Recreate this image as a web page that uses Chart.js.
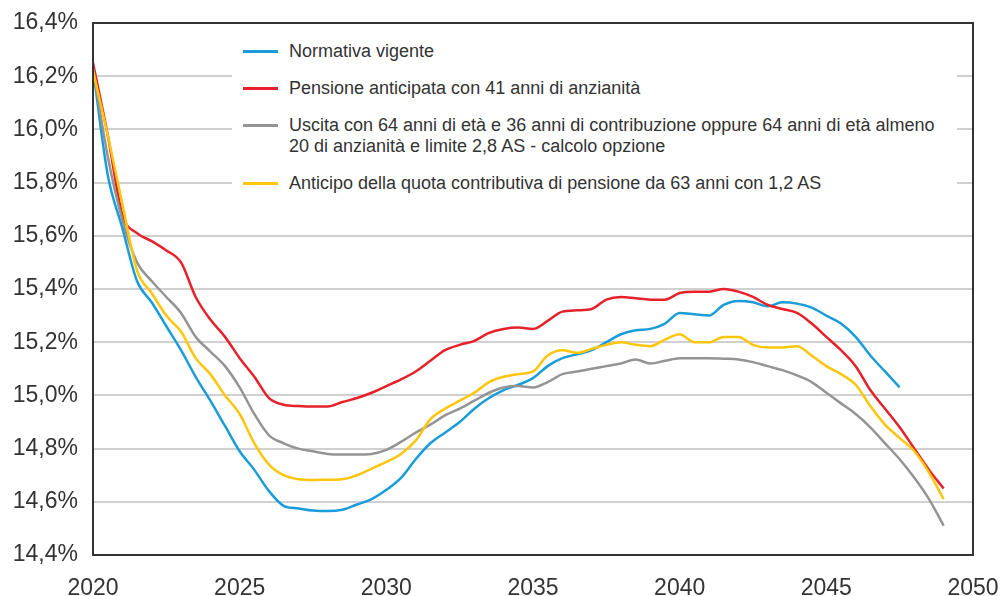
<!DOCTYPE html>
<html>
<head>
<meta charset="utf-8">
<script src="https://cdn.jsdelivr.net/npm/chart.js@4/dist/chart.umd.min.js"></script>
<style>
  body { margin: 0; background: #fff; }
  #wrap { position: relative; width: 1003px; height: 596px; }
  #legend {
    position: absolute; left: 232px; top: 30px; width: 725px; height: 170px;
    background: #fff; box-sizing: border-box; padding: 11px 0 0 57px;
    font-family: "Liberation Sans", Arial, sans-serif; font-size: 18px; color: #333;
  }
  .item { position: relative; line-height: 21px; margin-bottom: 16px; white-space: pre-line; }
  .item span { position: absolute; left: -46px; top: 9px; width: 35px; height: 3px; }
</style>
</head>
<body>
<div id="wrap">
  <canvas id="myChart" width="1003" height="596"></canvas>
  <div id="legend"></div>
</div>
<script>
// anni (passo di mezzo anno)
var anni = [2020, 2020.5, 2021, 2021.5, 2022, 2022.5, 2023, 2023.5, 2024, 2024.5,
  2025, 2025.5, 2026, 2026.5, 2027, 2027.5, 2028, 2028.5, 2029, 2029.5,
  2030, 2030.5, 2031, 2031.5, 2032, 2032.5, 2033, 2033.5, 2034, 2034.5,
  2035, 2035.5, 2036, 2036.5, 2037, 2037.5, 2038, 2038.5, 2039, 2039.5,
  2040, 2040.5, 2041, 2041.5, 2042, 2042.5, 2043, 2043.5, 2044, 2044.5,
  2045, 2045.5, 2046, 2046.5, 2047, 2047.5, 2048, 2048.5, 2049];

var normativa = [16.23, 15.83, 15.63, 15.43, 15.35, 15.26, 15.17, 15.07, 14.98, 14.885,
  14.79, 14.72, 14.64, 14.585, 14.575, 14.567, 14.565, 14.57, 14.59, 14.61,
  14.645, 14.69, 14.76, 14.82, 14.86, 14.90, 14.95, 14.99, 15.02, 15.04,
  15.065, 15.11, 15.14, 15.155, 15.17, 15.20, 15.23, 15.245, 15.25, 15.27,
  15.31, 15.305, 15.30, 15.34, 15.355, 15.35, 15.335, 15.35, 15.345, 15.33,
  15.30, 15.27, 15.22, 15.15, 15.09, 15.03, null, null, null];

var anticipata41 = [16.25, 15.98, 15.68, 15.61, 15.58, 15.545, 15.50, 15.37, 15.285, 15.22,
  15.14, 15.07, 14.99, 14.965, 14.96, 14.958, 14.958, 14.975, 14.99, 15.01,
  15.035, 15.06, 15.09, 15.13, 15.17, 15.19, 15.205, 15.235, 15.25, 15.255,
  15.25, 15.28, 15.315, 15.32, 15.325, 15.36, 15.37, 15.365, 15.36, 15.36,
  15.385, 15.39, 15.39, 15.40, 15.39, 15.37, 15.34, 15.325, 15.31, 15.27,
  15.22, 15.17, 15.11, 15.02, 14.95, 14.88, 14.80, 14.72, 14.65];

var uscita64 = [16.23, 15.90, 15.66, 15.50, 15.43, 15.37, 15.31, 15.22, 15.165, 15.11,
  15.03, 14.93, 14.85, 14.82, 14.80, 14.79, 14.78, 14.778, 14.778, 14.78,
  14.795, 14.825, 14.86, 14.89, 14.925, 14.95, 14.98, 15.01, 15.03, 15.035,
  15.03, 15.05, 15.08, 15.09, 15.10, 15.11, 15.12, 15.135, 15.12, 15.13,
  15.14, 15.14, 15.14, 15.138, 15.135, 15.125, 15.11, 15.095, 15.075, 15.05,
  15.01, 14.97, 14.93, 14.88, 14.82, 14.76, 14.69, 14.61, 14.51];

var quota63 = [16.22, 15.98, 15.72, 15.47, 15.385, 15.30, 15.24, 15.14, 15.08, 15.00,
  14.93, 14.82, 14.74, 14.70, 14.685, 14.682, 14.683, 14.685, 14.70, 14.725,
  14.75, 14.78, 14.83, 14.91, 14.95, 14.98, 15.01, 15.05, 15.07, 15.08,
  15.09, 15.15, 15.17, 15.16, 15.175, 15.19, 15.20, 15.19, 15.185, 15.21,
  15.23, 15.20, 15.20, 15.22, 15.22, 15.19, 15.18, 15.18, 15.185, 15.15,
  15.11, 15.08, 15.04, 14.96, 14.89, 14.84, 14.79, 14.71, 14.61];

var etichette = [
  'Normativa vigente',
  'Pensione anticipata con 41 anni di anzianità',
  'Uscita con 64 anni di età e 36 anni di contribuzione oppure 64 anni di età almeno\n20 di anzianità e limite 2,8 AS - calcolo opzione',
  'Anticipo della quota contributiva di pensione da 63 anni con 1,2 AS'
];
var colori = ['#1a9cd8', '#e62129', '#949494', '#fdc50c'];
var serie = [normativa, anticipata41, uscita64, quota63];

function punti(valori) {
  return valori.map(function (v, i) { return { x: anni[i], y: v }; });
}

var cornice = {
  id: 'cornice',
  afterDraw: function (chart) {
    var a = chart.chartArea, ctx = chart.ctx;
    ctx.save();
    ctx.strokeStyle = '#333';
    ctx.lineWidth = 2;
    ctx.strokeRect(a.left, a.top, a.right - a.left, a.bottom - a.top);
    ctx.restore();
  }
};

var ctx = document.getElementById('myChart').getContext('2d');
var myChart = new Chart(ctx, {
  type: 'line',
  data: {
    datasets: serie.map(function (s, i) {
      return {
        label: etichette[i],
        data: punti(s),
        borderColor: colori[i],
        borderWidth: 2.5,
        pointRadius: 0,
        fill: false,
        cubicInterpolationMode: 'monotone',
        spanGaps: false
      };
    }).reverse()
  },
  options: {
    responsive: false,
    animation: false,
    layout: { padding: { top: 23, right: 30, left: 0, bottom: 0 } },
    plugins: { legend: { display: false }, tooltip: { enabled: false } },
    scales: {
      x: {
        type: 'linear',
        min: 2020,
        max: 2050,
        grid: { display: false, drawTicks: false },
        border: { display: false },
        ticks: {
          stepSize: 5,
          padding: 20,
          color: '#333',
          font: { family: 'Liberation Sans', size: 23 },
          callback: function (v) { return String(v); }
        },
        afterFit: function (scale) {
          scale.height = 41;
          scale.paddingLeft = 0;
          scale.paddingRight = 0;
        }
      },
      y: {
        min: 14.4,
        max: 16.4,
        grid: { color: '#d0d0d0', lineWidth: 2, drawTicks: false },
        border: { display: false },
        ticks: {
          stepSize: 0.2,
          padding: 15,
          color: '#333',
          font: { family: 'Liberation Sans', size: 23 },
          callback: function (v) { return v.toFixed(1).replace('.', ',') + '%'; }
        },
        afterFit: function (scale) {
          scale.width = 93;
          scale.paddingTop = 0;
          scale.paddingBottom = 0;
        }
      }
    }
  },
  plugins: [cornice]
});

// legenda
var legenda = document.getElementById('legend');
etichette.forEach(function (t, i) {
  var d = document.createElement('div');
  d.className = 'item';
  d.textContent = t;
  var s = document.createElement('span');
  s.style.background = colori[i];
  d.appendChild(s);
  legenda.appendChild(d);
});
</script>
</body>
</html>
